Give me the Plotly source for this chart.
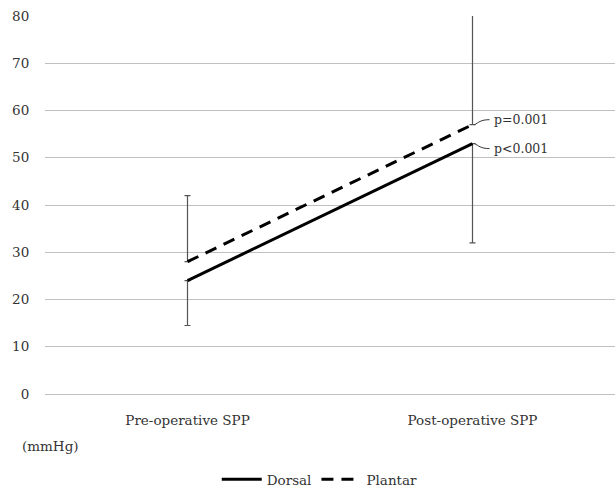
import plotly.graph_objects as go

categories = ["Pre-operative SPP", "Post-operative SPP"]
dorsal = [24, 53]
plantar = [28, 57]
dorsal_err_minus = [9.5, 21]
plantar_err_plus = [14, 25]
y_ticks = [0, 10, 20, 30, 40, 50, 60, 70, 80]
p_labels = ["p=0.001", "p<0.001"]

FONT = "DejaVu Serif, Liberation Serif, serif"
TXT = "#333333"
FS = 13.5

fig = go.Figure()
fig.add_trace(go.Scatter(
    x=categories, y=dorsal, name="Dorsal", mode="lines",
    line=dict(color="black", width=3),
    error_y=dict(type="data", symmetric=False, array=[0, 0], arrayminus=dorsal_err_minus,
                 color="#555555", thickness=1.2, width=3),
))
fig.add_trace(go.Scatter(
    x=categories, y=plantar, name="Plantar", mode="lines",
    line=dict(color="black", width=3, dash="12px,8px"),
    error_y=dict(type="data", symmetric=False, array=plantar_err_plus, arrayminus=[0, 0],
                 color="#555555", thickness=1.2, width=3),
))

# p-value labels with small curved connectors
for val, lab, sgn in [(plantar[1], p_labels[0], 1), (dorsal[1], p_labels[1], -1)]:
    fig.add_shape(type="path", xref="x", yref="y",
                  xsizemode="pixel", ysizemode="pixel",
                  xanchor=categories[1], yanchor=val,
                  path=f"M 2 0 C 6 {sgn*2}, 8 {sgn*5}, 17 {sgn*5}",
                  line=dict(color="#333333", width=1))
    fig.add_annotation(x=categories[1], y=val, xref="x", yref="y",
                       text=lab, showarrow=False, xanchor="left", yanchor="middle",
                       xshift=19, yshift=sgn*5,
                       font=dict(family=FONT, size=12.5, color=TXT))

fig.add_annotation(x=-25/570, y=-53/384, xref="paper", yref="paper",
                   text="(mmHg)", showarrow=False, xanchor="left", yanchor="middle",
                   font=dict(family=FONT, size=FS, color=TXT))

fig.update_layout(
    width=615, height=495,
    margin=dict(l=45, r=0, t=16, b=95),
    paper_bgcolor="white", plot_bgcolor="white",
    showlegend=True,
    legend=dict(orientation="h", x=0.482, xanchor="center", y=-87/384, yanchor="middle",
                font=dict(family=FONT, size=FS, color=TXT), itemwidth=40,
                tracegroupgap=0),
    xaxis=dict(range=[-0.5, 1.5], showgrid=False, zeroline=False, showline=False,
               ticks="outside", ticklen=14, tickcolor="rgba(0,0,0,0)",
               tickfont=dict(family=FONT, size=FS, color=TXT)),
    yaxis=dict(range=[0, 80], tickvals=y_ticks, showgrid=True, gridcolor="#c0c0c0",
               gridwidth=1, zeroline=True, zerolinecolor="#c0c0c0", zerolinewidth=1,
               showline=False,
               ticks="outside", ticklen=12, tickcolor="rgba(0,0,0,0)",
               tickfont=dict(family=FONT, size=FS, color=TXT)),
)

fig.write_html("out.html")
